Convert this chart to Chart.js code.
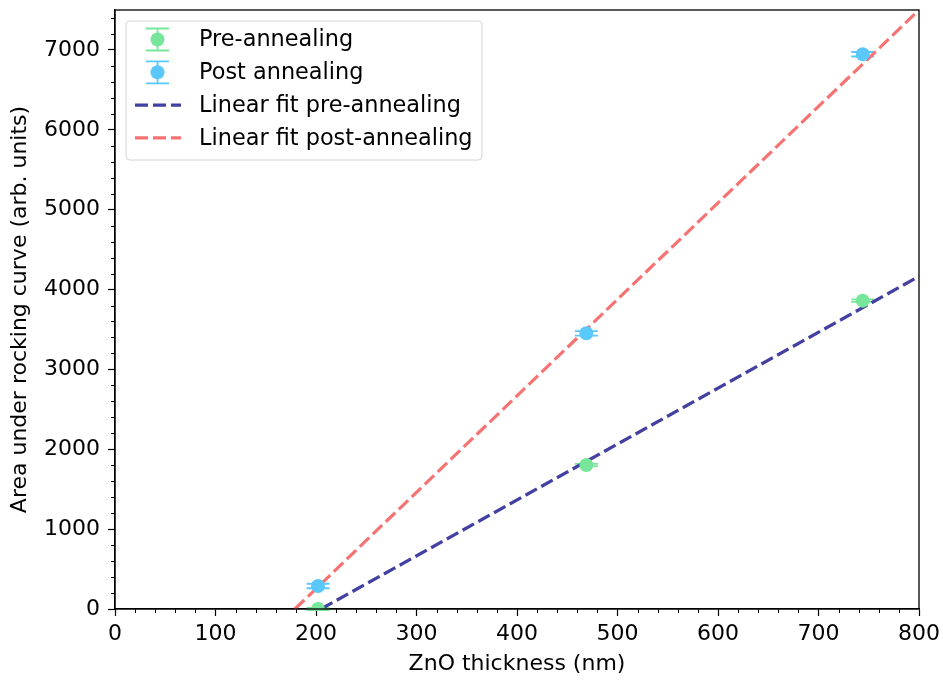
<!DOCTYPE html>
<html>
<head>
<meta charset="utf-8">
<script src="https://cdn.jsdelivr.net/npm/chart.js@4.4.1/dist/chart.umd.min.js"></script>
<style>
  html, body { margin: 0; padding: 0; background: #fff; }
  #wrap { width: 943px; height: 680px; }
</style>
</head>
<body>
<div id="wrap"><canvas id="c" width="943" height="680"></canvas></div>
<script>
// ZnO thickness (nm) of the three samples
const thickness = [202, 469, 744];
// Area under rocking curve before and after annealing
const preArea = [0, 1803, 3861];
const postArea = [288, 3452, 6946];
// Vertical uncertainties on the areas
const preErr = [15, 15, 15];
const postErr = [28, 28, 28];
// Linear fit end points (thickness, area)
const fitPreX = [205, 800];
const fitPreY = [0, 4165];
const fitPostX = [179, 800];
const fitPostY = [0, 7500];
// Axis ticks
const xTicks = [0, 100, 200, 300, 400, 500, 600, 700, 800];
const yTicks = [0, 1000, 2000, 3000, 4000, 5000, 6000, 7000];

const FONT = "'DejaVu Sans', sans-serif";
const GREEN = '#77e69a';
const BLUE = '#5ac8fb';
const NAVY = '#4240a0';
const SALMON = '#f57373';
const DASH = [13, 5];

const pts = (xs, ys) => xs.map((x, i) => ({ x: x, y: ys[i] }));

// Error bars, drawn beneath the fit lines and markers
const errorBars = {
  id: 'errorBars',
  beforeDatasetsDraw(chart) {
    const { ctx, scales: { x, y } } = chart;
    ctx.save();
    chart.data.datasets.forEach(ds => {
      if (!ds.yerr) return;
      ctx.strokeStyle = ds.backgroundColor;
      ctx.lineWidth = 1.8;
      ds.data.forEach((p, i) => {
        const px = x.getPixelForValue(p.x);
        const y1 = y.getPixelForValue(p.y - ds.yerr[i]);
        const y2 = y.getPixelForValue(p.y + ds.yerr[i]);
        ctx.beginPath();
        ctx.moveTo(px, y1); ctx.lineTo(px, y2);
        ctx.moveTo(px - 11.5, y1); ctx.lineTo(px + 11.5, y1);
        ctx.moveTo(px - 11.5, y2); ctx.lineTo(px + 11.5, y2);
        ctx.stroke();
      });
    });
    ctx.restore();
  }
};

// Frame around the plotting area and minor ticks
const frameAndMinor = {
  id: 'frameAndMinor',
  afterDraw(chart) {
    const { ctx, chartArea: a, scales: { x, y } } = chart;
    ctx.save();
    ctx.strokeStyle = '#000';
    ctx.lineWidth = 1;
    ctx.beginPath();
    for (let v = 0; v <= 800; v += 20) {
      if (v % 100 === 0) continue;
      const px = Math.round(x.getPixelForValue(v)) + 0.5;
      ctx.moveTo(px, a.bottom); ctx.lineTo(px, a.bottom + 4);
    }
    for (let v = 0; v <= 7500; v += 200) {
      if (v % 1000 === 0) continue;
      const py = Math.round(y.getPixelForValue(v)) + 0.5;
      ctx.moveTo(a.left, py); ctx.lineTo(a.left - 4, py);
    }
    ctx.stroke();
    ctx.lineWidth = 1.3;
    ctx.strokeRect(a.left, a.top, a.right - a.left, a.bottom - a.top);
    ctx.restore();
  }
};

// Legend box in the upper left corner of the plot
const legendBox = {
  id: 'legendBox',
  afterDraw(chart) {
    const { ctx } = chart;
    const ds = chart.data.datasets;
    const bx = 126, by = 21, bw = 356, bh = 139, r = 4;
    ctx.save();
    ctx.beginPath();
    ctx.moveTo(bx + r, by);
    ctx.arcTo(bx + bw, by, bx + bw, by + bh, r);
    ctx.arcTo(bx + bw, by + bh, bx, by + bh, r);
    ctx.arcTo(bx, by + bh, bx, by, r);
    ctx.arcTo(bx, by, bx + bw, by, r);
    ctx.closePath();
    ctx.fillStyle = 'rgba(255,255,255,0.8)';
    ctx.fill();
    ctx.strokeStyle = '#d4d4d4';
    ctx.lineWidth = 1;
    ctx.stroke();

    ds.forEach((d, i) => {
      const cy = 39.5 + i * 32.8;
      const hx = 157.5;
      if (d.type === 'line') {
        ctx.strokeStyle = d.borderColor;
        ctx.lineWidth = d.borderWidth;
        ctx.setLineDash(d.borderDash);
        ctx.beginPath();
        ctx.moveTo(135, cy); ctx.lineTo(181, cy);
        ctx.stroke();
        ctx.setLineDash([]);
      } else {
        ctx.strokeStyle = d.backgroundColor;
        ctx.lineWidth = 1.8;
        ctx.beginPath();
        ctx.moveTo(hx, cy - 11); ctx.lineTo(hx, cy + 11);
        ctx.moveTo(hx - 11.5, cy - 11); ctx.lineTo(hx + 11.5, cy - 11);
        ctx.moveTo(hx - 11.5, cy + 11); ctx.lineTo(hx + 11.5, cy + 11);
        ctx.stroke();
        ctx.fillStyle = d.backgroundColor;
        ctx.beginPath();
        ctx.arc(hx, cy, 7, 0, Math.PI * 2);
        ctx.fill();
      }
      ctx.fillStyle = '#000';
      ctx.font = '22.4px ' + FONT;
      ctx.textAlign = 'left';
      ctx.textBaseline = 'middle';
      ctx.fillText(d.label, 199, cy + 1);
    });
    ctx.restore();
  }
};

new Chart(document.getElementById('c'), {
  type: 'scatter',
  data: {
    datasets: [
      {
        label: 'Pre-annealing',
        data: pts(thickness, preArea),
        yerr: preErr,
        backgroundColor: GREEN,
        borderWidth: 0,
        pointRadius: 7,
        pointHoverRadius: 7,
        order: 0
      },
      {
        label: 'Post annealing',
        data: pts(thickness, postArea),
        yerr: postErr,
        backgroundColor: BLUE,
        borderWidth: 0,
        pointRadius: 7,
        pointHoverRadius: 7,
        order: 0
      },
      {
        type: 'line',
        label: 'Linear fit pre-annealing',
        data: pts(fitPreX, fitPreY),
        borderColor: NAVY,
        borderWidth: 3.2,
        borderDash: DASH,
        pointRadius: 0,
        fill: false,
        order: 1
      },
      {
        type: 'line',
        label: 'Linear fit post-annealing',
        data: pts(fitPostX, fitPostY),
        borderColor: SALMON,
        borderWidth: 3.2,
        borderDash: DASH,
        pointRadius: 0,
        fill: false,
        order: 1
      }
    ]
  },
  options: {
    responsive: false,
    animation: false,
    devicePixelRatio: 1,
    layout: { padding: { top: 10, right: 24, left: 0, bottom: 0 } },
    plugins: {
      legend: { display: false },
      tooltip: { enabled: false }
    },
    scales: {
      x: {
        type: 'linear',
        min: 0,
        max: 800,
        afterBuildTicks: s => { s.ticks = xTicks.map(v => ({ value: v })); },
        afterFit: s => { s.height = 71; s.paddingLeft = 0; s.paddingRight = 0; },
        ticks: { color: '#000', font: { family: FONT, size: 22 }, padding: 5, maxRotation: 0,
                 callback: v => String(v) },
        grid: { drawOnChartArea: false, drawTicks: true, tickLength: 7, tickColor: '#000', tickWidth: 1.2 },
        border: { display: true, color: '#000', width: 1.3 },
        title: {
          display: true,
          text: 'ZnO thickness (nm)',
          color: '#000',
          font: { family: FONT, size: 22 },
          padding: { top: 0, bottom: 3 }
        }
      },
      y: {
        type: 'linear',
        min: 0,
        max: 7500,
        afterBuildTicks: s => { s.ticks = yTicks.map(v => ({ value: v })); },
        afterFit: s => { s.width = 115; s.paddingTop = 0; s.paddingBottom = 0; },
        ticks: { color: '#000', font: { family: FONT, size: 22 }, padding: 8,
                 callback: v => String(v) },
        grid: { drawOnChartArea: false, drawTicks: true, tickLength: 7, tickColor: '#000', tickWidth: 1.2 },
        border: { display: true, color: '#000', width: 1.3 },
        title: {
          display: true,
          text: 'Area under rocking curve (arb. units)',
          color: '#000',
          font: { family: FONT, size: 22 },
          padding: { top: 7, bottom: 0 }
        }
      }
    }
  },
  plugins: [errorBars, frameAndMinor, legendBox]
});
</script>
</body>
</html>
